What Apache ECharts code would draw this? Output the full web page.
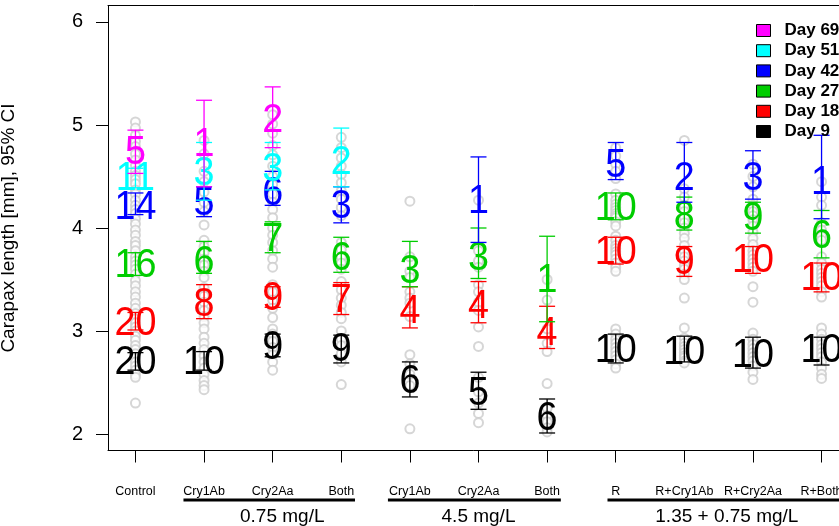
<!DOCTYPE html>
<html>
<head>
<meta charset="utf-8">
<script src="https://cdn.jsdelivr.net/npm/echarts@6/dist/echarts.min.js"></script>
<style>
  html, body { margin: 0; padding: 0; background: #fff; }
  #main { width: 839px; height: 526px; }
</style>
</head>
<body>
<div id="main"></div>
<script>
// treatment groups (x positions 1..11)
const groupLabels = ['Control', 'Cry1Ab', 'Cry2Aa', 'Both', 'Cry1Ab', 'Cry2Aa', 'Both',
  'R', 'R+Cry1Ab', 'R+Cry2Aa', 'R+Both']
const doseLabels = ['0.75 mg/L', '4.5 mg/L', '1.35 + 0.75 mg/L']
const doseFrom = [1.7, 4.68, 7.88]
const doseTo = [4.2, 7.2, 11.4]
const doseMid = [3.14, 6.0, 9.62]

// individual animals (gray circles), one list per group
const ptsControl = [5.03, 4.97, 4.9, 4.84, 4.79, 4.72, 4.66, 4.61, 4.55, 4.51, 4.47, 4.43, 4.37, 4.33,
  4.27, 4.22, 4.18, 4.14, 4.09, 4.04, 3.98, 3.93, 3.87, 3.83, 3.78, 3.72, 3.68, 3.64, 3.6, 3.55,
  3.49, 3.44, 3.38, 3.33, 3.27, 3.22, 3.17, 3.12, 3.08, 3.04, 3.0, 2.95, 2.91, 2.86, 2.82, 2.78,
  2.74, 2.7, 2.66, 2.62, 2.58, 2.55, 2.3]
const ptsCry1Ab075 = [4.85, 4.72, 4.55, 4.45, 4.35, 4.25, 4.16, 4.03, 3.88, 3.82, 3.76, 3.7, 3.64,
  3.58, 3.52, 3.42, 3.34, 3.28, 3.2, 3.14, 3.08, 3.02, 2.94, 2.88, 2.82, 2.76, 2.7, 2.64, 2.58,
  2.52, 2.47, 2.43]
const ptsCry2Aa075 = [5.1, 5.01, 4.92, 4.8, 4.71, 4.6, 4.5, 4.42, 4.33, 4.25, 4.18, 4.1, 4.0, 3.93,
  3.86, 3.78, 3.7, 3.62, 3.45, 3.38, 3.3, 3.22, 3.13, 3.02, 2.97, 2.9, 2.84, 2.77, 2.7, 2.62]
const ptsBoth075 = [4.88, 4.78, 4.68, 4.6, 4.52, 4.44, 4.36, 4.28, 4.2, 4.12, 3.86, 3.79, 3.72,
  3.66, 3.6, 3.48, 3.4, 3.32, 3.25, 3.18, 3.12, 3.0, 2.92, 2.86, 2.78, 2.7, 2.48]
const ptsCry1Ab45 = [4.26, 3.72, 3.58, 3.52, 3.38, 3.32, 3.27, 3.14, 2.77, 2.68, 2.58, 2.47, 2.05]
const ptsCry2Aa45 = [4.27, 3.78, 3.68, 3.62, 3.45, 3.38, 3.28, 3.2, 3.04, 2.85, 2.55, 2.41, 2.3, 2.2, 2.11]
const ptsBoth45 = [3.5, 3.3, 3.02, 2.88, 2.8, 2.49, 2.25, 2.18, 2.12, 2.06, 2.02]
const ptsR = [4.78, 4.7, 4.62, 4.55, 4.48, 4.33, 4.27, 4.23, 4.2, 4.17, 4.14, 4.12, 4.1, 4.06, 4.02,
  3.92, 3.88, 3.83, 3.8, 3.77, 3.74, 3.7, 3.66, 3.62, 3.58, 3.02, 2.97, 2.92, 2.88, 2.84, 2.8,
  2.76, 2.72, 2.68, 2.64]
const ptsRCry1Ab = [4.85, 4.38, 4.3, 4.22, 4.16, 4.1, 4.05, 4.0, 3.95, 3.9, 3.83, 3.78, 3.72, 3.68,
  3.64, 3.6, 3.55, 3.5, 3.32, 3.03, 2.93, 2.88, 2.85, 2.82, 2.79, 2.76, 2.74, 2.71, 2.69]
const ptsRCry2Aa = [4.62, 4.5, 4.4, 4.28, 4.22, 4.16, 4.12, 4.08, 4.02, 3.96, 3.9, 3.84, 3.78, 3.74,
  3.7, 3.66, 3.62, 3.58, 3.43, 3.28, 2.98, 2.92, 2.87, 2.83, 2.79, 2.75, 2.71, 2.66, 2.6, 2.53]
const ptsRBoth = [4.45, 4.3, 4.22, 4.05, 3.98, 3.92, 3.88, 3.72, 3.66, 3.6, 3.56, 3.52, 3.48, 3.44,
  3.38, 3.33, 3.03, 2.97, 2.92, 2.87, 2.83, 2.79, 2.75, 2.7, 2.64, 2.58, 2.54]
const ptsAll = [ptsControl, ptsCry1Ab075, ptsCry2Aa075, ptsBoth075, ptsCry1Ab45, ptsCry2Aa45,
  ptsBoth45, ptsR, ptsRCry1Ab, ptsRCry2Aa, ptsRBoth]

// means, 95% CI and n per day (null = not measured)
const day69Mean = [4.74, 4.82, 5.05, null, null, null, null, null, null, null, null]
const day69Lo = [4.53, 4.40, 4.78, null, null, null, null, null, null, null, null]
const day69Hi = [4.95, 5.24, 5.37, null, null, null, null, null, null, null, null]
const day69N = [5, 1, 2, null, null, null, null, null, null, null, null]

const day51Mean = [4.49, 4.54, 4.58, 4.64, null, null, null, null, null, null, null]
const day51Lo = [4.39, 4.27, 4.37, 4.40, null, null, null, null, null, null, null]
const day51Hi = [4.58, 4.83, 4.83, 4.97, null, null, null, null, null, null, null]
const day51N = [11, 3, 3, 2, null, null, null, null, null, null, null]

const day42Mean = [4.21, 4.25, 4.34, 4.22, null, 4.27, null, 4.61, 4.49, 4.49, 4.45]
const day42Lo = [4.13, 4.11, 4.22, 4.05, null, 3.86, null, 4.47, 4.25, 4.28, 4.09]
const day42Hi = [4.34, 4.40, 4.55, 4.40, null, 4.69, null, 4.83, 4.83, 4.75, 4.90]
const day42N = [14, 5, 6, 3, null, 1, null, 5, 2, 3, 1]

const day27Mean = [3.64, 3.67, 3.90, 3.71, 3.59, 3.71, 3.50, 4.20, 4.11, 4.10, 3.93]
const day27Lo = [3.54, 3.56, 3.76, 3.57, 3.43, 3.51, 3.09, 4.08, 3.98, 3.95, 3.71]
const day27Hi = [3.76, 3.87, 4.06, 3.91, 3.87, 4.00, 3.92, 4.34, 4.30, 4.25, 4.17]
const day27N = [16, 6, 7, 6, 3, 3, 1, 10, 8, 9, 6]

const day18Mean = [3.08, 3.27, 3.32, 3.30, 3.20, 3.25, 2.98, 3.77, 3.67, 3.69, 3.52]
const day18Lo = [3.01, 3.12, 3.23, 3.16, 3.03, 3.08, 2.83, 3.65, 3.53, 3.56, 3.38]
const day18Hi = [3.18, 3.45, 3.43, 3.47, 3.43, 3.48, 3.24, 3.91, 3.82, 3.82, 3.66]
const day18N = [20, 8, 9, 7, 4, 4, 4, 10, 9, 10, 10]

const day9Mean = [2.70, 2.70, 2.85, 2.83, 2.52, 2.40, 2.16, 2.82, 2.80, 2.77, 2.82]
const day9Lo = [2.62, 2.62, 2.75, 2.69, 2.36, 2.24, 2.01, 2.69, 2.70, 2.64, 2.67]
const day9Hi = [2.79, 2.80, 2.97, 2.96, 2.70, 2.60, 2.34, 2.97, 2.95, 2.94, 2.94]
const day9N = [20, 10, 9, 9, 6, 5, 6, 10, 10, 10, 10]

const days = [
  { name: 'Day 9', color: '#000000', mean: day9Mean, lo: day9Lo, hi: day9Hi, n: day9N },
  { name: 'Day 18', color: '#ff0000', mean: day18Mean, lo: day18Lo, hi: day18Hi, n: day18N },
  { name: 'Day 27', color: '#00cd00', mean: day27Mean, lo: day27Lo, hi: day27Hi, n: day27N },
  { name: 'Day 42', color: '#0000ff', mean: day42Mean, lo: day42Lo, hi: day42Hi, n: day42N },
  { name: 'Day 51', color: '#00ffff', mean: day51Mean, lo: day51Lo, hi: day51Hi, n: day51N },
  { name: 'Day 69', color: '#ff00ff', mean: day69Mean, lo: day69Lo, hi: day69Hi, n: day69N }
]

const FONT = '"Liberation Sans", Arial, sans-serif'

let pointData = []
ptsAll.forEach((arr, i) => {
  arr.forEach(v => pointData.push([i + 1, v]))
})

function errSeries(d) {
  let data = []
  d.mean.forEach((m, i) => {
    if (m != null) data.push([i + 1, m, d.lo[i], d.hi[i], d.n[i]])
  })
  return {
    name: d.name,
    type: 'custom',
    itemStyle: { color: d.color },
    clip: false,
    z: 3,
    data: data,
    renderItem: function (params, api) {
      let x = api.value(0)
      let pm = api.coord([x, api.value(1)])
      let pl = api.coord([x, api.value(2)])
      let ph = api.coord([x, api.value(3)])
      let w = 8
      let st = { stroke: d.color, lineWidth: 1.3 }
      return {
        type: 'group',
        children: [
          { type: 'line', shape: { x1: pm[0], y1: pl[1], x2: pm[0], y2: ph[1] }, style: st },
          { type: 'line', shape: { x1: pm[0] - w, y1: pl[1], x2: pm[0] + w, y2: pl[1] }, style: st },
          { type: 'line', shape: { x1: pm[0] - w, y1: ph[1], x2: pm[0] + w, y2: ph[1] }, style: st },
          {
            type: 'text', x: pm[0], y: pm[1] + 1, scaleX: 0.92,
            style: {
              text: String(api.value(4)), fill: d.color, font: '41px ' + FONT,
              align: 'center', verticalAlign: 'middle'
            }
          }
        ]
      }
    }
  }
}

// dose brackets below the axis labels
const doseSeries = {
  type: 'custom',
  clip: false,
  silent: true,
  data: doseLabels.map((t, i) => [doseFrom[i], doseTo[i], doseMid[i]]),
  renderItem: function (params, api) {
    let a = api.coord([api.value(0), 2])
    let b = api.coord([api.value(1), 2])
    let c = api.coord([api.value(2), 2])
    return {
      type: 'group',
      children: [
        { type: 'line', shape: { x1: a[0], y1: 500, x2: b[0], y2: 500 }, style: { stroke: '#000', lineWidth: 3 } },
        {
          type: 'text', x: c[0], y: 517,
          style: {
            text: doseLabels[params.dataIndex], fill: '#000', font: '19px ' + FONT,
            align: 'center', verticalAlign: 'middle'
          }
        }
      ]
    }
  }
}

const chart = echarts.init(document.getElementById('main'))
chart.setOption({
  animation: false,
  backgroundColor: '#fff',
  textStyle: { fontFamily: FONT },
  grid: { left: 108, right: -10, top: 5.5, bottom: 75.5, outerBoundsMode: 'none', containLabel: false },
  legend: {
    data: ['Day 69', 'Day 51', 'Day 42', 'Day 27', 'Day 18', 'Day 9'],
    orient: 'vertical',
    left: 751,
    top: 17,
    itemWidth: 14,
    itemHeight: 12,
    itemGap: 3.2,
    icon: 'rect',
    itemStyle: { borderColor: '#000', borderWidth: 1 },
    textStyle: { fontSize: 17, fontWeight: 'bold', color: '#000', padding: [0, 0, 0, 9] }
  },
  xAxis: [{
    type: 'value',
    min: 0.6,
    max: 11.4,
    splitLine: { show: false },
    axisLine: { lineStyle: { color: '#000', width: 1 } },
    axisTick: { length: 12, customValues: [1, 2, 3, 4, 5, 6, 7, 8, 9, 10, 11], lineStyle: { color: '#000' } },
    axisLabel: {
      customValues: [1, 2, 3, 4, 5, 6, 7, 8, 9, 10, 11],
      formatter: v => groupLabels[Math.round(v) - 1],
      margin: 35, fontSize: 12.5, color: '#000'
    }
  }, {
    type: 'value',
    position: 'top',
    min: 0.6,
    max: 11.4,
    splitLine: { show: false },
    axisLine: { lineStyle: { color: '#000', width: 1 } },
    axisTick: { show: false },
    axisLabel: { show: false }
  }],
  yAxis: {
    type: 'value',
    min: 1.84,
    max: 6.16,
    name: 'Carapax length [mm], 95% CI',
    nameLocation: 'middle',
    nameGap: 90,
    nameTextStyle: { fontSize: 19, color: '#000' },
    splitLine: { show: false },
    axisLine: { show: true, lineStyle: { color: '#000', width: 1 } },
    axisTick: { show: true, length: 12, customValues: [2, 3, 4, 5, 6], lineStyle: { color: '#000' } },
    axisLabel: { customValues: [2, 3, 4, 5, 6], margin: 25, fontSize: 20, color: '#000' }
  },
  series: [{
    type: 'scatter',
    symbol: 'emptyCircle',
    symbolSize: 9,
    silent: true,
    itemStyle: { color: '#cccccc', borderColor: '#cccccc', borderWidth: 1.2 },
    z: 2,
    data: pointData
  }].concat(days.map(errSeries)).concat([doseSeries])
})
</script>
</body>
</html>
